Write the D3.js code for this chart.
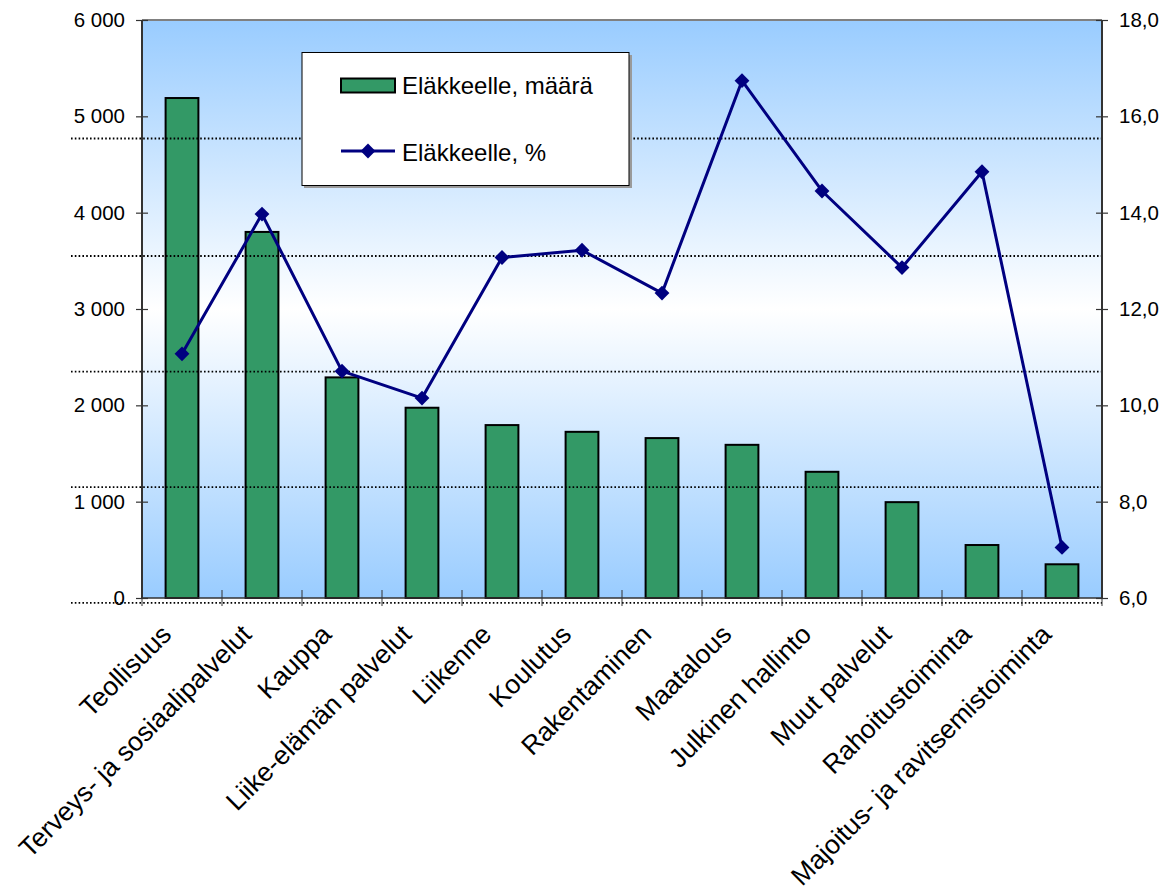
<!DOCTYPE html>
<html>
<head>
<meta charset="utf-8">
<script src="https://cdn.jsdelivr.net/npm/d3@7"></script>
<style>
  html, body { margin: 0; padding: 0; background: #ffffff; }
  svg { display: block; font-family: "Liberation Sans", Arial, sans-serif; }
</style>
</head>
<body>
<svg id="chart" width="1165" height="890"></svg>
<script>
const categories = [
  "Teollisuus", "Terveys- ja sosiaalipalvelut", "Kauppa", "Liike-elämän palvelut",
  "Liikenne", "Koulutus", "Rakentaminen", "Maatalous", "Julkinen hallinto",
  "Muut palvelut", "Rahoitustoiminta", "Majoitus- ja ravitsemistoiminta"
];
const retiredCount = [5190, 3800, 2290, 1975, 1795, 1725, 1660, 1590, 1310, 995, 550, 350];
const retiredPct = [11.07, 13.97, 10.71, 10.15, 13.07, 13.22, 12.33, 16.74, 14.45, 12.86, 14.85, 7.05];
const leftTicks = [0, 1000, 2000, 3000, 4000, 5000, 6000];
const rightTicks = [6, 8, 10, 12, 14, 16, 18];
const gridValues = [-50, 1150, 2350, 3550, 4770];
const seriesNames = ["Eläkkeelle, määrä", "Eläkkeelle, %"];

const svg = d3.select("#chart");
const plot = { left: 142, right: 1102, top: 20, bottom: 598 };

const x = d3.scaleBand().domain(categories).range([plot.left, plot.right])
  .paddingInner(0.59).paddingOuter(0.295);
const xc = c => x(c) + x.bandwidth() / 2;
const yL = d3.scaleLinear().domain([0, 6000]).range([plot.bottom, plot.top]);
const yR = d3.scaleLinear().domain([6, 18]).range([plot.bottom, plot.top]);

const fmtL = v => d3.format(",")(v).replace(/,/g, " ");
const fmtR = v => d3.format(".1f")(v).replace(".", ",");

// background gradient
const defs = svg.append("defs");
const grad = defs.append("linearGradient").attr("id", "bg")
  .attr("x1", 0).attr("y1", 0).attr("x2", 0).attr("y2", 1);
grad.append("stop").attr("offset", "0%").attr("stop-color", "#99ccff");
grad.append("stop").attr("offset", "50%").attr("stop-color", "#ffffff");
grad.append("stop").attr("offset", "100%").attr("stop-color", "#99ccff");

svg.append("rect")
  .attr("x", plot.left).attr("y", plot.top)
  .attr("width", plot.right - plot.left).attr("height", plot.bottom - plot.top)
  .attr("fill", "url(#bg)");

// top border
svg.append("line").attr("x1", plot.left).attr("x2", plot.right)
  .attr("y1", plot.top).attr("y2", plot.top)
  .attr("stroke", "#808080").attr("stroke-width", 2);

// bars
svg.append("g").selectAll("rect").data(categories).join("rect")
  .attr("x", d => x(d))
  .attr("y", (d, i) => yL(retiredCount[i]))
  .attr("width", x.bandwidth())
  .attr("height", (d, i) => yL(0) - yL(retiredCount[i]))
  .attr("fill", "#339966")
  .attr("stroke", "#000").attr("stroke-width", 2);

// dotted gridlines (drawn over bars)
svg.append("g").selectAll("line").data(gridValues).join("line")
  .attr("x1", 71).attr("x2", plot.right)
  .attr("y1", d => yL(d)).attr("y2", d => yL(d))
  .attr("stroke", "#000").attr("stroke-width", 1.8).attr("stroke-dasharray", "1.6,2.2");

// bottom axis line + category ticks
svg.append("line").attr("x1", plot.left).attr("x2", plot.right)
  .attr("y1", plot.bottom).attr("y2", plot.bottom)
  .attr("stroke", "#333").attr("stroke-width", 1.5);
const bounds = d3.range(categories.length + 1).map(i => plot.left + i * x.step());
svg.append("g").selectAll("line").data(bounds).join("line")
  .attr("x1", d => d).attr("x2", d => d)
  .attr("y1", plot.bottom - 8).attr("y2", plot.bottom + 8)
  .attr("stroke", "#333").attr("stroke-width", 1);

// left axis
const gL = svg.append("g").attr("transform", `translate(${plot.left},0)`)
  .call(d3.axisLeft(yL).tickValues(leftTicks).tickFormat(fmtL).tickSize(6).tickPadding(11));
gL.select(".domain").attr("stroke", "#333").attr("stroke-width", 2).attr("d", `M0,${plot.top}V${plot.bottom}`);
gL.selectAll(".tick line").attr("x2", -6).attr("x1", 6).attr("stroke", "#333").attr("stroke-width", 1.2);
gL.selectAll(".tick text").attr("font-size", 20.5).attr("fill", "#000")
  .attr("font-family", "'Liberation Sans', Arial, sans-serif");

// right axis
const gR = svg.append("g").attr("transform", `translate(${plot.right},0)`)
  .call(d3.axisRight(yR).tickValues(rightTicks).tickFormat(fmtR).tickSize(6).tickPadding(11));
gR.select(".domain").attr("stroke", "#333").attr("stroke-width", 2).attr("d", `M0,${plot.top}V${plot.bottom}`);
gR.selectAll(".tick line").attr("x1", -6).attr("x2", 6).attr("stroke", "#333").attr("stroke-width", 1.2);
gR.selectAll(".tick text").attr("font-size", 20.5).attr("fill", "#000")
  .attr("font-family", "'Liberation Sans', Arial, sans-serif");

// line series
const line = d3.line().x((d, i) => xc(categories[i])).y(d => yR(d));
svg.append("path").datum(retiredPct)
  .attr("d", line).attr("fill", "none")
  .attr("stroke", "#000080").attr("stroke-width", 3).attr("stroke-linejoin", "round");
svg.append("g").selectAll("path").data(retiredPct).join("path")
  .attr("transform", (d, i) => `translate(${xc(categories[i])},${yR(d)}) rotate(45)`)
  .attr("d", d3.symbol().type(d3.symbolSquare).size(110))
  .attr("fill", "#000080");

// category labels
svg.append("g").selectAll("text").data(categories).join("text")
  .attr("transform", d => `translate(${xc(d) - 9},${636}) rotate(-45)`)
  .attr("text-anchor", "end")
  .attr("font-size", 26.5)
  .attr("fill", "#000")
  .text(d => d);

// legend
const lg = svg.append("g");
lg.append("rect").attr("x", 304).attr("y", 55).attr("width", 328).attr("height", 133).attr("fill", "#9a9a9a");
lg.append("rect").attr("x", 302).attr("y", 52.5).attr("width", 327).attr("height", 133)
  .attr("fill", "#fff").attr("stroke", "#000").attr("stroke-width", 1);
lg.append("rect").attr("x", 341).attr("y", 78.5).attr("width", 54).attr("height", 14)
  .attr("fill", "#339966").attr("stroke", "#000").attr("stroke-width", 2);
lg.append("text").attr("x", 402).attr("y", 94).attr("font-size", 24).attr("fill", "#000").text(seriesNames[0]);
lg.append("line").attr("x1", 341).attr("x2", 395).attr("y1", 151).attr("y2", 151)
  .attr("stroke", "#000080").attr("stroke-width", 3);
lg.append("path").attr("transform", "translate(368,151) rotate(45)")
  .attr("d", d3.symbol().type(d3.symbolSquare).size(110)).attr("fill", "#000080");
lg.append("text").attr("x", 402).attr("y", 160.5).attr("font-size", 24).attr("fill", "#000").text(seriesNames[1]);
</script>
</body>
</html>
